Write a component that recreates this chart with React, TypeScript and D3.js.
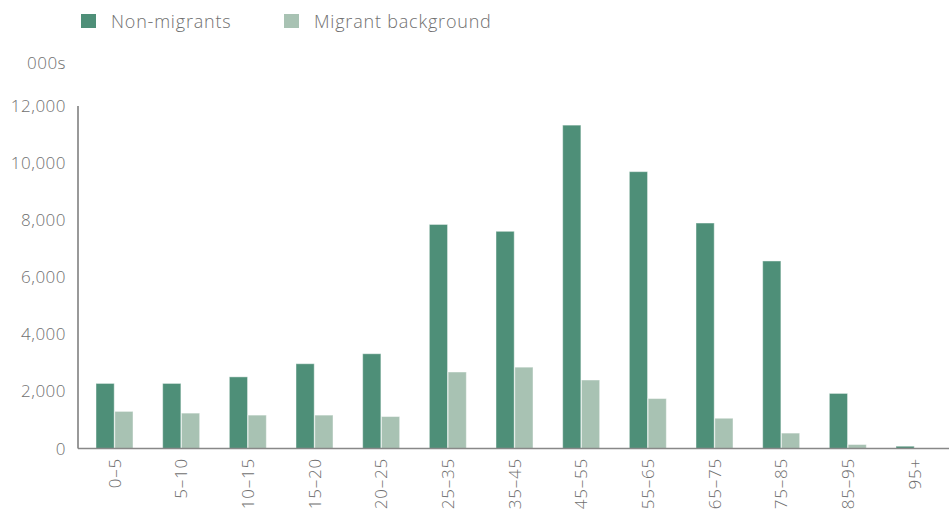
import React from "react";
import * as d3 from "d3";

const categories = ["0–5", "5–10", "10–15", "15–20", "20–25", "25–35", "35–45", "45–55", "55–65", "65–75", "75–85", "85–95", "95+"];
const nonMigrants = [2280, 2280, 2510, 2970, 3320, 7850, 7610, 11330, 9700, 7900, 6570, 1930, 80];
const migrantBackground = [1300, 1240, 1170, 1170, 1120, 2680, 2850, 2400, 1750, 1060, 540, 140, 0];
const yTicks = [0, 2000, 4000, 6000, 8000, 10000, 12000];
const seriesNames = ["Non-migrants", "Migrant background"];
const colors = ["#4E8F78", "#A8C2B3"];

const W = 949;
const H = 511;
const left = 78;
const bottom = 448.5;
const top = 106;

export default function App() {
  const x = d3
    .scaleBand<string>()
    .domain(categories)
    .range([left, 951])
    .paddingInner(0.445)
    .paddingOuter(0.27)
    .align(0.5);
  const sub = d3.scaleBand<number>().domain([0, 1]).range([0, x.bandwidth()]).paddingInner(0.03);
  const y = d3.scaleLinear().domain([0, 12000]).range([bottom, top]);
  const series = [nonMigrants, migrantBackground];
  const font = "'Open Sans', 'DejaVu Sans', sans-serif";
  const textColor = "#707070";

  return (
    <svg
      width={W}
      height={H}
      style={{ position: "absolute", left: 0, top: 0, background: "#fff" }}
      fontFamily={font}
      fontWeight={300}
    >
      {/* legend */}
      {seriesNames.map((name, i) => {
        const lx = i === 0 ? 81 : 284;
        return (
          <g key={name}>
            <rect x={lx} y={14} width={15} height={14} fill={colors[i]} />
            <text x={lx + 30} y={27.5} fontSize={18} letterSpacing={0.8} fill={textColor}>
              {name}
            </text>
          </g>
        );
      })}
      <text x={66} y={69} fontSize={17} letterSpacing={0.5} fill={textColor} textAnchor="end">
        000s
      </text>

      {/* y ticks */}
      {yTicks.map((t) => (
        <text key={t} x={66} y={y(t) + 6} fontSize={17} letterSpacing={0.5} fill={textColor} textAnchor="end">
          {d3.format(",")(t)}
        </text>
      ))}

      {/* bars */}
      {series.map((vals, si) =>
        categories.map((c, ci) => {
          const v = vals[ci];
          if (v <= 0) return null;
          const bx = (x(c) as number) + (sub(si) as number);
          return (
            <rect
              key={`${si}-${c}`}
              x={bx}
              y={y(v)}
              width={sub.bandwidth()}
              height={bottom - y(v)}
              fill={colors[si]}
              stroke="rgba(255,255,255,0.45)"
              strokeWidth={1}
            />
          );
        })
      )}

      {/* axes */}
      <line x1={left} x2={left} y1={top} y2={bottom} stroke="#555" strokeWidth={1.2} />
      <line x1={left} x2={W} y1={bottom} y2={bottom} stroke="#888" strokeWidth={1.5} />

      {/* x labels */}
      {categories.map((c) => {
        const cx = (x(c) as number) + x.bandwidth() / 2;
        return (
          <text
            key={c}
            transform={`translate(${cx + 6},458) rotate(-90)`}
            fontSize={17}
            letterSpacing={0.8}
            fill={textColor}
            textAnchor="end"
          >
            {c}
          </text>
        );
      })}
    </svg>
  );
}
